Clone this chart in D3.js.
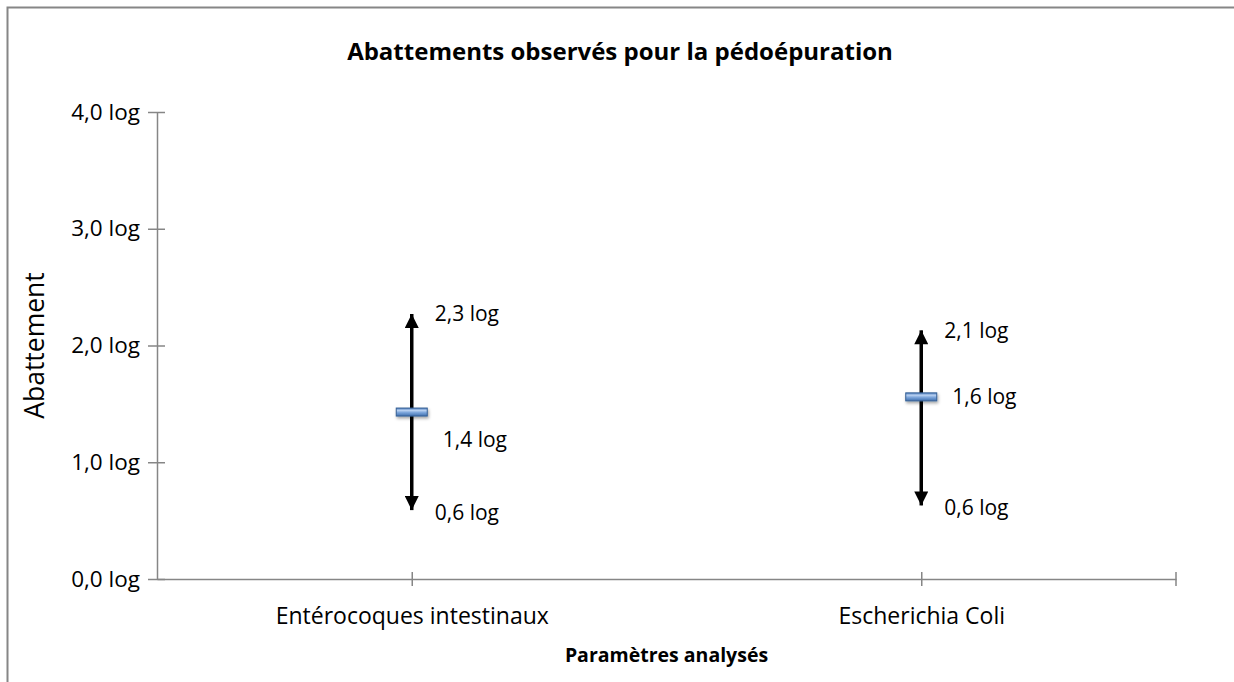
<!DOCTYPE html>
<html>
<head>
<meta charset="utf-8">
<script src="https://cdn.jsdelivr.net/npm/d3@7"></script>
<style>
  html, body { margin: 0; padding: 0; background: #fff; overflow: hidden; }
  svg { display: block; font-family: "Open Sans", sans-serif; }
</style>
</head>
<body>
<div id="chart"></div>
<script>
// Data
const categories = ["Entérocoques intestinaux", "Escherichia Coli"];
const minValues = [0.59, 0.63];
const maxValues = [2.27, 2.13];
const meanValues = [1.43, 1.56];
const meanLabelSide = ["below", "right"];
const yTicks = [0, 1, 2, 3, 4];

const width = 1234;
const height = 682;
const margin = { top: 112, right: 58, bottom: 103, left: 157 };
const font = "Open Sans, sans-serif";

const svg = d3.select("#chart")
    .append("svg")
    .attr("width", width)
    .attr("height", height);

// Outer chart border (only top and left are inside the picture)
svg.append("path")
    .attr("d", `M7.5,${height} V7.5 H${width}`)
    .attr("fill", "none")
    .attr("stroke", "#868686")
    .attr("stroke-width", 2);

const defs = svg.append("defs");

// Arrow heads
defs.append("marker")
    .attr("id", "arrow")
    .attr("viewBox", "0 0 10 10")
    .attr("refX", 10)
    .attr("refY", 5)
    .attr("markerUnits", "userSpaceOnUse")
    .attr("markerWidth", 17)
    .attr("markerHeight", 14)
    .attr("orient", "auto-start-reverse")
    .append("path")
    .attr("d", "M0,0 L10,5 L0,10 Z")
    .attr("fill", "#000");

// Gradient for the mean markers
const grad = defs.append("linearGradient")
    .attr("id", "meanGrad")
    .attr("x1", 0).attr("y1", 0)
    .attr("x2", 0).attr("y2", 1);
grad.append("stop").attr("offset", "0%").attr("stop-color", "#4f7fc0");
grad.append("stop").attr("offset", "30%").attr("stop-color", "#b8d0f0");
grad.append("stop").attr("offset", "55%").attr("stop-color", "#7ea7dc");
grad.append("stop").attr("offset", "100%").attr("stop-color", "#3f6fae");

const shadow = defs.append("filter")
    .attr("id", "shadow")
    .attr("x", "-30%").attr("y", "-50%")
    .attr("width", "160%").attr("height", "250%");
shadow.append("feDropShadow")
    .attr("dx", 1).attr("dy", 2)
    .attr("stdDeviation", 1.5)
    .attr("flood-color", "#000")
    .attr("flood-opacity", 0.35);

// Scales
const x = d3.scalePoint()
    .domain(categories)
    .range([margin.left, width - margin.right])
    .padding(0.5);

const y = d3.scaleLinear()
    .domain([0, 4])
    .range([height - margin.bottom, margin.top]);

const fmt = v => d3.format(".1f")(v).replace(".", ",") + " log";

// Y axis
const yAxis = svg.append("g")
    .attr("transform", `translate(${margin.left},0)`)
    .call(d3.axisLeft(y).tickValues(yTicks).tickFormat(fmt).tickSize(9).tickSizeOuter(0).tickPadding(8))
    .attr("font-family", font);

yAxis.select(".domain").attr("stroke", "#868686").attr("stroke-width", 1.5);
yAxis.selectAll(".tick line").attr("stroke", "#868686").attr("stroke-width", 1.5).attr("x2", -9).attr("x1", 8);
yAxis.selectAll(".tick text")
    .attr("fill", "#000")
    .style("font-size", "22.5px");

// X axis
const xAxis = svg.append("g")
    .attr("transform", `translate(0,${y(0)})`)
    .call(d3.axisBottom(x).tickSize(7).tickSizeOuter(0).tickPadding(22))
    .attr("font-family", font);

xAxis.select(".domain").attr("stroke", "#868686").attr("stroke-width", 1.5);
xAxis.selectAll(".tick line").attr("stroke", "#868686").attr("stroke-width", 1.5).attr("y1", -7);
xAxis.selectAll(".tick text")
    .attr("fill", "#000")
    .style("font-size", "23px");

// Tick at the right end of the category axis
const xEnd = x.range()[1];
xAxis.append("line")
    .attr("x1", xEnd).attr("x2", xEnd)
    .attr("y1", -7).attr("y2", 7)
    .attr("stroke", "#868686")
    .attr("stroke-width", 1.5);

// Range arrows
const rows = categories.map((c, i) => ({
    cat: c,
    min: minValues[i],
    max: maxValues[i],
    mean: meanValues[i],
    side: meanLabelSide[i]
}));

svg.selectAll(".range")
    .data(rows)
    .enter()
    .append("line")
    .attr("class", "range")
    .attr("x1", d => x(d.cat))
    .attr("x2", d => x(d.cat))
    .attr("y1", d => y(d.min))
    .attr("y2", d => y(d.max))
    .attr("stroke", "#000")
    .attr("stroke-width", 3.5)
    .attr("marker-start", "url(#arrow)")
    .attr("marker-end", "url(#arrow)");

// Mean markers
svg.selectAll(".mean")
    .data(rows)
    .enter()
    .append("rect")
    .attr("class", "mean")
    .attr("x", d => x(d.cat) - 15.5)
    .attr("y", d => y(d.mean) - 4)
    .attr("width", 31)
    .attr("height", 8)
    .attr("fill", "url(#meanGrad)")
    .attr("stroke", "#365f94")
    .attr("stroke-width", 1)
    .attr("filter", "url(#shadow)");

// Data labels
const labels = svg.append("g").style("font-size", "21px").attr("fill", "#000");

rows.forEach(d => {
    const cx = x(d.cat);
    labels.append("text")
        .attr("x", cx + 23)
        .attr("y", y(d.max))
        .attr("dy", "0.35em")
        .text(fmt(d.max));
    labels.append("text")
        .attr("x", cx + 23)
        .attr("y", y(d.min))
        .attr("dy", "0.45em")
        .text(fmt(d.min));
    labels.append("text")
        .attr("x", cx + 31)
        .attr("y", d.side === "below" ? y(d.mean) + 28 : y(d.mean))
        .attr("dy", "0.35em")
        .text(fmt(d.mean));
});

// Titles
svg.append("text")
    .attr("x", 620)
    .attr("y", 52)
    .attr("dy", "0.35em")
    .attr("text-anchor", "middle")
    .style("font-size", "24px")
    .style("font-weight", "bold")
    .text("Abattements observés pour la pédoépuration");

svg.append("text")
    .attr("x", (x.range()[0] + x.range()[1]) / 2)
    .attr("y", 655)
    .attr("dy", "0.35em")
    .attr("text-anchor", "middle")
    .style("font-size", "19.5px")
    .style("font-weight", "bold")
    .text("Paramètres analysés");

svg.append("text")
    .attr("transform", `translate(35,${(y(0) + y(4)) / 2}) rotate(-90)`)
    .attr("dy", "0.35em")
    .attr("text-anchor", "middle")
    .style("font-size", "26.5px")
    .text("Abattement");
</script>
</body>
</html>
